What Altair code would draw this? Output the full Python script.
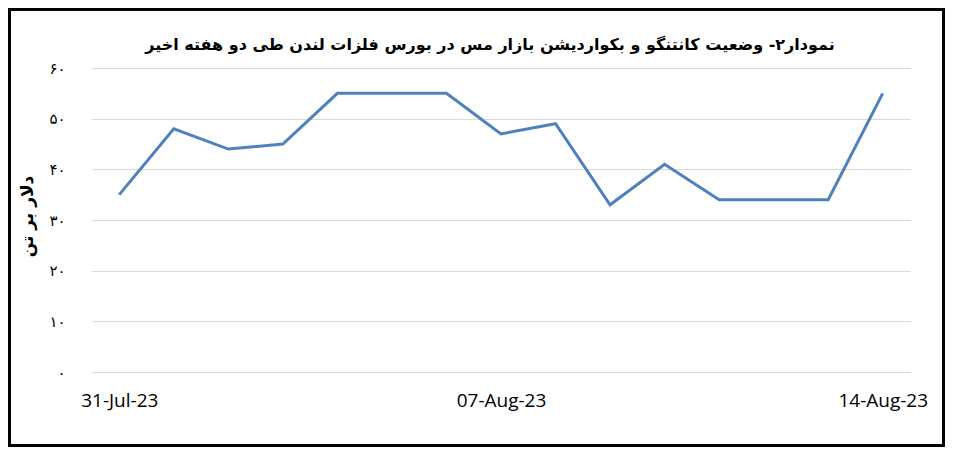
import altair as alt
import pandas as pd

dates = ["31-Jul-23", "01-Aug-23", "02-Aug-23", "03-Aug-23", "04-Aug-23",
         "05-Aug-23", "06-Aug-23", "07-Aug-23", "08-Aug-23", "09-Aug-23",
         "10-Aug-23", "11-Aug-23", "12-Aug-23", "13-Aug-23", "14-Aug-23"]
values = [35, 48, 44, 45, 55, 55, 55, 47, 49, 33, 41, 34, 34, 34, 55]
x_ticks = ["31-Jul-23", "07-Aug-23", "14-Aug-23"]
y_ticks = [0, 10, 20, 30, 40, 50, 60]

title_text = "نمودار۲- وضعیت کانتنگو و بکواردیشن بازار مس در بورس فلزات لندن طی دو هفته اخیر"
y_title = "دلار بر تن"

df = pd.DataFrame({"date": dates, "value": values})

W, H = 818, 304

persian = ("replace(replace(replace(replace(replace(replace(replace(replace(replace(replace("
           "toString(datum.value),'0','۰'),'1','۱'),'2','۲'),'3','۳'),'4','۴'),"
           "'5','۵'),'6','۶'),'7','۷'),'8','۸'),'9','۹')")

line = alt.Chart(df).mark_line(color="#4F81BD", strokeWidth=3).encode(
    x=alt.X("date:O", sort=dates,
            scale=alt.Scale(type="point", padding=0.5),
            axis=alt.Axis(values=x_ticks, title=None, labelAngle=0,
                          labelFont="Liberation Sans Narrow, Open Sans, sans-serif",
                          labelFontSize=19, labelColor="#000000",
                          labelPadding=19, tickSize=0, ticks=False,
                          domain=False, grid=False)),
    y=alt.Y("value:Q",
            scale=alt.Scale(domain=[0, 60], nice=False, zero=True),
            axis=alt.Axis(values=y_ticks, title=y_title,
                          labelExpr=persian,
                          labelFont="DejaVu Sans", labelFontSize=15,
                          labelColor="#000000", labelPadding=27,
                          tickSize=0, ticks=False, domain=False,
                          grid=True, gridColor="#D9D9D9", gridWidth=1,
                          titleFont="DejaVu Sans", titleFontSize=17,
                          titleFontWeight="bold", titleColor="#000000",
                          titleAngle=270, titleX=-65, titleY=H / 2 - 4,
                          titleAlign="center", titleBaseline="middle")),
)

frame = alt.Chart(df).mark_rect(filled=False, stroke="#000000", strokeWidth=2.5).encode(
    x=alt.value(-83), x2=alt.value(W + 34),
    y=alt.value(-59), y2=alt.value(H + 74),
)

chart = alt.layer(line, frame).properties(
    width=W, height=H,
    autosize=alt.AutoSizeParams(type="none"),
    padding={"left": 84, "top": 60, "right": 35, "bottom": 75},
    title=alt.TitleParams(title_text, font="DejaVu Sans", fontSize=16,
                          fontWeight="bold", color="#000000",
                          anchor="middle", frame="group", dx=-11, offset=-45),
).configure(background="#FFFFFF", view=alt.ViewConfig(stroke=None))

chart.save("out.html", embed_options={"renderer": "svg", "actions": False})
